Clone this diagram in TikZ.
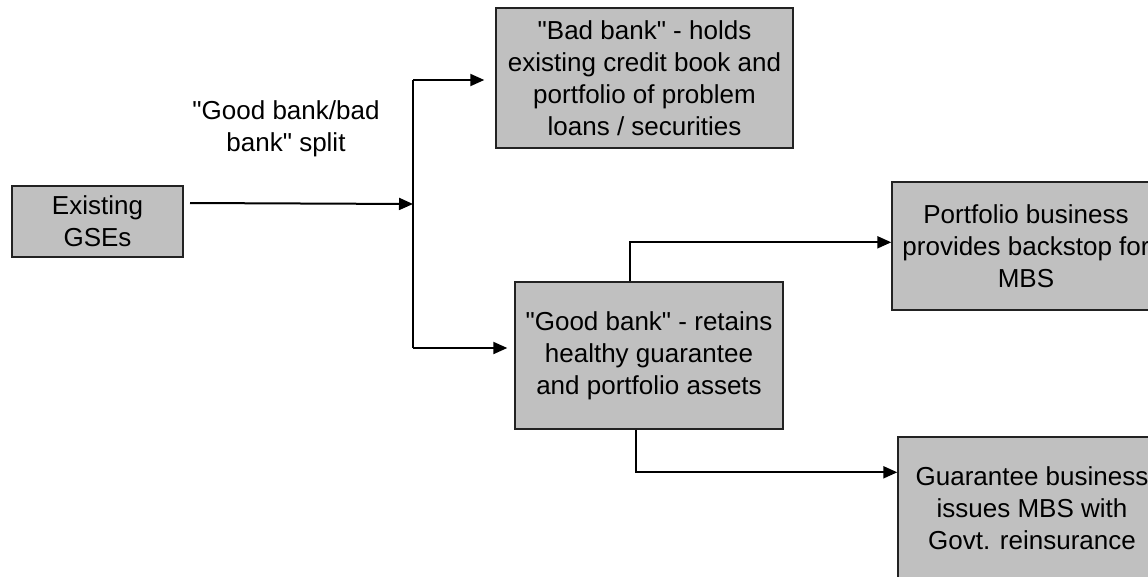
\documentclass[tikz,border=0pt]{standalone}
\usepackage{fontspec}
\setmainfont{Liberation Sans}
\usepackage{tikz}
\usetikzlibrary{positioning,arrows.meta,calc}

\definecolor{boxgray}{HTML}{C0C0C0}
\definecolor{boxline}{HTML}{222222}
\newcommand{\dq}{\textquotedbl}

\begin{document}
\begin{tikzpicture}[x=1pt,y=-1pt,>={Triangle[length=14pt,width=12pt]},
	bankbox/.style={draw=boxline,line width=1.4pt,fill=boxgray,align=center,inner sep=0pt,
		font=\fontsize{26}{32}\selectfont},
	link/.style={line width=2pt}]
		
		\useasboundingbox (0,0) rectangle (1148,576);
		
		% Boxes
		\node[bankbox,minimum width=171pt,minimum height=71pt] (gse) at (97.5,221.5){Existing\\GSEs};
		\node[bankbox,minimum width=297pt,minimum height=140pt] (bad) at (644.5,78){\dq Bad bank\dq{} - holds\\existing credit book and\\portfolio of problem\\loans / securities};
		\node[bankbox,minimum width=268pt,minimum height=147pt] (good) at (649,355.5){\dq Good bank\dq{} - retains\\healthy guarantee\\and portfolio assets};
		\node[bankbox,minimum width=268pt,minimum height=128pt] (port) at (1026,246){Portfolio business\\provides backstop for\\MBS};
		\node[bankbox,minimum width=268pt,minimum height=143pt] (guar) at (1032,508.5){Guarantee business\\issues MBS with\\Govt. reinsurance};
		
		% Split label
		\node[align=center,font=\fontsize{26}{32}\selectfont] (split) at (286,129){\dq Good bank/bad\\bank\dq{} split};
		
		% Junction
		\coordinate (gseout) at (190,203);
		\coordinate (jmid) at (413,204);
		\coordinate (jtop) at (413,80);
		\coordinate (jbot) at (413,348);
		
		\draw[link,->] (gseout)--(jmid);
		\draw[link] (jtop)--(jbot);
		\draw[link,->,shorten >=11pt] (jtop)--(bad.west |- jtop);
		\draw[link,->,shorten >=7pt] (jbot)--(good.west |- jbot);
		
		% Good bank branches
		\draw[link,->] ($(good.north west)+(116,0)$) |- ($(port.north west)+(0,61)$);
		\draw[link,->] ($(good.south west)+(122,0)$) |- ($(guar.north west)+(0,36)$);
		
	\end{tikzpicture}
\end{document}
